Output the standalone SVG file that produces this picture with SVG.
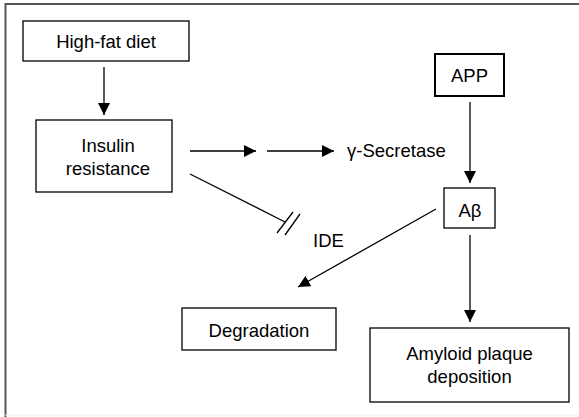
<svg xmlns="http://www.w3.org/2000/svg" width="579" height="417" viewBox="0 0 579 417">
<defs>
<marker id="ah" markerUnits="userSpaceOnUse" markerWidth="12" markerHeight="12" refX="12" refY="6" orient="auto">
<path d="M0,0 L12,6 L0,12 z" fill="#000"/>
</marker>
<style>
.box{fill:#fff;stroke:#000;stroke-width:1.3}
.t{font-family:"Liberation Sans",Arial,Helvetica,sans-serif;font-size:18.5px;fill:#000}
.m{text-anchor:middle}
.c{stroke:#000;stroke-width:1.3;fill:none}
.a{marker-end:url(#ah)}
</style>
</defs>
<rect width="579" height="417" fill="#fff"/>
<g id="frame" fill="none">
<path d="M5.5,417 V4 H579" stroke="#555" stroke-width="2"/>
<line x1="5" y1="415" x2="579" y2="415" stroke="#eee" stroke-width="1"/>
</g>
<g id="connectors">
<line class="c a" x1="104" y1="67" x2="104" y2="115"/>
<line class="c a" x1="190" y1="151" x2="256" y2="151"/>
<line class="c a" x1="267" y1="151" x2="334" y2="151"/>
<line class="c a" x1="470" y1="102" x2="470" y2="183"/>
<line class="c" x1="190" y1="174" x2="285" y2="222"/>
<line class="c" x1="277" y1="233" x2="293" y2="212"/>
<line class="c" x1="285" y1="235" x2="300" y2="214"/>
<line class="c a" x1="436" y1="209" x2="298" y2="287"/>
<line class="c a" x1="470" y1="235" x2="470" y2="322"/>
</g>
<g id="highfat">
<rect class="box" x="23" y="21" width="166" height="40"/>
<text class="t m" x="106" y="48">High-fat diet</text>
</g>
<g id="insulin">
<rect class="box" x="36" y="120" width="136" height="72"/>
<text class="t m" x="108" y="152">Insulin</text>
<text class="t m" x="108" y="175">resistance</text>
</g>
<g id="secretase">
<text class="t" x="347" y="157">γ-Secretase</text>
</g>
<g id="app">
<rect class="box" x="435" y="54" width="69" height="42" style="stroke-width:2"/>
<text class="t m" x="469.5" y="82">APP</text>
</g>
<g id="abeta">
<rect class="box" x="444" y="188" width="51" height="40"/>
<text class="t m" x="470" y="217">Aβ</text>
</g>
<g id="ide">
<text class="t" x="313" y="247">IDE</text>
</g>
<g id="degradation">
<rect class="box" x="182" y="308" width="154" height="42"/>
<text class="t m" x="259" y="337">Degradation</text>
</g>
<g id="amyloid">
<rect class="box" x="370" y="328" width="199" height="74"/>
<text class="t m" x="469.5" y="360">Amyloid plaque</text>
<text class="t m" x="469.5" y="383">deposition</text>
</g>
</svg>
